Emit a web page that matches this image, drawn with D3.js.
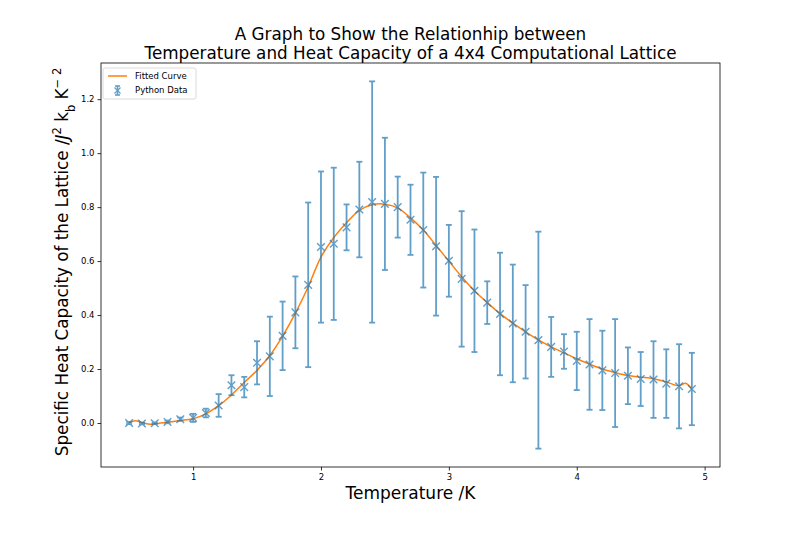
<!DOCTYPE html>
<html>
<head>
<meta charset="utf-8">
<script src="https://cdn.jsdelivr.net/npm/d3@7"></script>
<style>
  body { margin: 0; background: #ffffff; }
  text { font-family: "DejaVu Sans", sans-serif; }
</style>
</head>
<body>
<script>
var w = 800
var h = 533

// Python Data (temperature, heat capacity, error)
var temps = [0.5, 0.6, 0.7, 0.8, 0.9, 1.0, 1.1, 1.2, 1.3, 1.4,
             1.5, 1.6, 1.7, 1.8, 1.9, 2.0, 2.1, 2.2, 2.3, 2.4,
             2.5, 2.6, 2.7, 2.8, 2.9, 3.0, 3.1, 3.2, 3.3, 3.4,
             3.5, 3.6, 3.7, 3.8, 3.9, 4.0, 4.1, 4.2, 4.3, 4.4,
             4.5, 4.6, 4.7, 4.8, 4.9];

var heatCap = [0.0, -0.002, -0.001, 0.004, 0.014, 0.019, 0.037, 0.065, 0.14, 0.133,
               0.223, 0.247, 0.323, 0.41, 0.512, 0.652, 0.664, 0.725, 0.791, 0.819,
               0.812, 0.8, 0.753, 0.715, 0.655, 0.601, 0.534, 0.49, 0.446, 0.404,
               0.369, 0.338, 0.307, 0.282, 0.265, 0.23, 0.217, 0.195, 0.185, 0.175,
               0.163, 0.161, 0.146, 0.136, 0.126];

var heatErr = [0.004, 0.003, 0.003, 0.005, 0.006, 0.015, 0.016, 0.042, 0.037, 0.038,
               0.08, 0.147, 0.127, 0.133, 0.305, 0.28, 0.282, 0.085, 0.177, 0.447,
               0.245, 0.113, 0.13, 0.213, 0.257, 0.133, 0.251, 0.227, 0.079, 0.227,
               0.218, 0.173, 0.402, 0.111, 0.064, 0.108, 0.168, 0.147, 0.2, 0.105,
               0.1, 0.142, 0.127, 0.156, 0.134];

// Fitted Curve
var fitT = [0.5, 0.55, 0.6, 0.65, 0.7, 0.8, 0.9, 1.0, 1.1, 1.2, 1.3, 1.4,
            1.5, 1.6, 1.7, 1.8, 1.9, 2.0, 2.1, 2.2, 2.3, 2.4,
            2.5, 2.6, 2.7, 2.8, 2.9, 3.0, 3.1, 3.2, 3.3, 3.4,
            3.5, 3.6, 3.7, 3.8, 3.9, 4.0, 4.1, 4.2, 4.3, 4.4,
            4.5, 4.6, 4.7, 4.8, 4.85, 4.9];

var fitC = [0.002, 0.008, 0.002, -0.004, -0.003, 0.003, 0.009, 0.016, 0.034, 0.064, 0.104, 0.15,
            0.195, 0.25, 0.322, 0.407, 0.505, 0.615, 0.687, 0.742, 0.788, 0.809,
            0.811, 0.797, 0.76, 0.715, 0.658, 0.6, 0.542, 0.49, 0.446, 0.405,
            0.37, 0.338, 0.308, 0.282, 0.26, 0.238, 0.218, 0.2, 0.187, 0.176,
            0.17, 0.164, 0.152, 0.138, 0.147, 0.125];

var xTicks = [1, 2, 3, 4, 5];
var yTicks = [0.0, 0.2, 0.4, 0.6, 0.8, 1.0, 1.2];

var plotL = 101, plotR = 720, plotT = 63, plotB = 467;

var blue = "#1f77b4";
var orange = "#ff7f0e";

var svg = d3.select("body").append("svg")
    .attr("width", w)
    .attr("height", h);

svg.append("rect")
    .attr("width", w)
    .attr("height", h)
    .attr("fill", "#ffffff");

// matplotlib style 5% margins around the data
var lo = d3.min(temps), hi = d3.max(temps);
var x = d3.scaleLinear()
    .domain([lo - 0.05 * (hi - lo), hi + 0.05 * (hi - lo)])
    .range([plotL, plotR]);

var yLo = d3.min(heatCap, function(d, i) { return d - heatErr[i]; });
var yHi = d3.max(heatCap, function(d, i) { return d + heatErr[i]; });
var y = d3.scaleLinear()
    .domain([yLo - 0.05 * (yHi - yLo), yHi + 0.05 * (yHi - yLo)])
    .range([plotB, plotT]);

var xAxis = svg.append("g")
    .attr("transform", "translate(0," + plotB + ")")
    .call(d3.axisBottom(x).tickValues(xTicks).tickSize(3.5).tickPadding(3).tickFormat(d3.format("d")));

var yAxis = svg.append("g")
    .attr("transform", "translate(" + plotL + ",0)")
    .call(d3.axisLeft(y).tickValues(yTicks).tickSize(3.5).tickPadding(3).tickFormat(d3.format(".1f")));

[xAxis, yAxis].forEach(function(a) {
  a.select(".domain").remove();
  a.selectAll("line").attr("stroke", "#000").attr("stroke-width", 0.8);
  a.selectAll("text")
      .style("font-family", "DejaVu Sans")
      .style("font-size", "8.5px")
      .attr("fill", "#000");
});

// fitted curve first, the data goes on top of it
var line = d3.line()
    .x(function(d, i) { return x(fitT[i]); })
    .y(function(d) { return y(d); })
    .curve(d3.curveCatmullRom);

svg.append("path")
    .datum(fitC)
    .attr("fill", "none")
    .attr("stroke", orange)
    .attr("stroke-width", 1.5)
    .attr("d", line);

var pts = svg.selectAll(".pt").data(heatCap).enter()
    .append("g")
    .attr("class", "pt")
    .attr("opacity", 0.7);

pts.append("line")
    .attr("x1", function(d, i) { return x(temps[i]); })
    .attr("x2", function(d, i) { return x(temps[i]); })
    .attr("y1", function(d, i) { return y(d - heatErr[i]); })
    .attr("y2", function(d, i) { return y(d + heatErr[i]); })
    .attr("stroke", blue)
    .attr("stroke-width", 1.8);

// caps
[-1, 1].forEach(function(s) {
  pts.append("line")
      .attr("x1", function(d, i) { return x(temps[i]) - 3; })
      .attr("x2", function(d, i) { return x(temps[i]) + 3; })
      .attr("y1", function(d, i) { return y(d + s * heatErr[i]); })
      .attr("y2", function(d, i) { return y(d + s * heatErr[i]); })
      .attr("stroke", blue)
      .attr("stroke-width", 1.8);
});

// x markers
pts.append("path")
    .attr("d", function(d, i) {
      var cx = x(temps[i]), cy = y(d), r = 3.8;
      return "M" + (cx - r) + "," + (cy - r) + "L" + (cx + r) + "," + (cy + r) +
             "M" + (cx - r) + "," + (cy + r) + "L" + (cx + r) + "," + (cy - r);
    })
    .attr("stroke", blue)
    .attr("stroke-width", 1.4)
    .attr("fill", "none");

// frame
svg.append("rect")
    .attr("x", plotL)
    .attr("y", plotT)
    .attr("width", plotR - plotL)
    .attr("height", plotB - plotT)
    .attr("fill", "none")
    .attr("stroke", "#000")
    .attr("stroke-width", 0.8);

// legend
var lg = svg.append("g").attr("transform", "translate(103,68)");

lg.append("rect")
    .attr("width", 93)
    .attr("height", 31)
    .attr("rx", 2)
    .attr("fill", "#ffffff")
    .attr("fill-opacity", 0.8)
    .attr("stroke", "#d0d0d0")
    .attr("stroke-width", 0.8);

lg.append("line")
    .attr("x1", 5).attr("x2", 24)
    .attr("y1", 8).attr("y2", 8)
    .attr("stroke", orange)
    .attr("stroke-width", 1.5);

var lgErr = lg.append("g").attr("opacity", 0.7);
lgErr.append("line").attr("x1", 14.5).attr("x2", 14.5).attr("y1", 18).attr("y2", 27)
    .attr("stroke", blue).attr("stroke-width", 1.6);
lgErr.append("line").attr("x1", 12).attr("x2", 17).attr("y1", 18).attr("y2", 18)
    .attr("stroke", blue).attr("stroke-width", 1.6);
lgErr.append("line").attr("x1", 12).attr("x2", 17).attr("y1", 27).attr("y2", 27)
    .attr("stroke", blue).attr("stroke-width", 1.6);
lgErr.append("path").attr("d", "M11.5,19.5L17.5,25.5M11.5,25.5L17.5,19.5")
    .attr("stroke", blue).attr("stroke-width", 1.2).attr("fill", "none");

lg.selectAll("text.lg").data(["Fitted Curve", "Python Data"]).enter()
    .append("text")
    .attr("x", 32)
    .attr("y", function(d, i) { return 11 + i * 14; })
    .style("font-size", "8.5px")
    .text(function(d) { return d; });

// title
var title = ["A Graph to Show the Relationhip between",
             "Temperature and Heat Capacity of a 4x4 Computational Lattice"];

svg.selectAll("text.title").data(title).enter()
    .append("text")
    .attr("x", (plotL + plotR) / 2)
    .attr("y", function(d, i) { return 40 + i * 19; })
    .attr("text-anchor", "middle")
    .style("font-size", "16.8px")
    .text(function(d) { return d; });

svg.append("text")
    .attr("x", (plotL + plotR) / 2)
    .attr("y", 499)
    .attr("text-anchor", "middle")
    .style("font-size", "17px")
    .text("Temperature /K");

var yl = svg.append("text")
    .attr("transform", "translate(68,262) rotate(-90)")
    .attr("text-anchor", "middle")
    .style("font-size", "16.8px");

yl.append("tspan").text("Specific Heat Capacity of the Lattice /");
yl.append("tspan").style("font-style", "italic").text("J");
yl.append("tspan").attr("baseline-shift", "super").style("font-size", "11.5px").text("2");
yl.append("tspan").text(" k");
yl.append("tspan").attr("baseline-shift", "sub").style("font-size", "11.5px").text("b");
yl.append("tspan").text(" K");
yl.append("tspan").attr("baseline-shift", "super").style("font-size", "11.5px").text("\u2212 2");
</script>
</body>
</html>
